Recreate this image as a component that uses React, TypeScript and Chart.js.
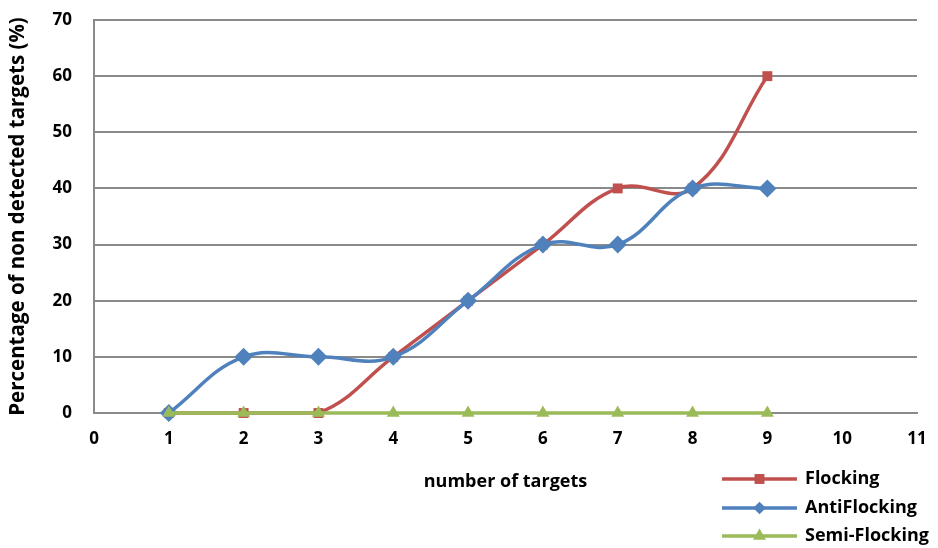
import React, { useEffect, useRef } from "react";
import { Chart, registerables } from "chart.js";

Chart.register(...registerables);

const xValues = [1, 2, 3, 4, 5, 6, 7, 8, 9];
const flocking = [0, 0, 0, 10, 20, 30, 40, 40, 60];
const antiFlocking = [0, 10, 10, 10, 20, 30, 30, 40, 40];
const semiFlocking = [0, 0, 0, 0, 0, 0, 0, 0, 0];
const seriesNames = ["Flocking", "AntiFlocking", "Semi-Flocking"];
const xTitle = "number of targets";
const yTitle = "Percentage of non detected targets (%)";

const RED = "#C0504D";
const BLUE = "#4F81BD";
const GREEN = "#9BBB59";
const GRID = "#8A8A8A";
const FONT = "'Open Sans', Lato, sans-serif";

function drawMarker(ctx: CanvasRenderingContext2D, style: string, x: number, y: number, r: number) {
  ctx.beginPath();
  if (style === "rect") {
    const s = r * Math.SQRT1_2;
    ctx.rect(x - s, y - s, 2 * s, 2 * s);
  } else if (style === "rectRot") {
    const s = r * Math.SQRT1_2;
    ctx.moveTo(x - s, y);
    ctx.lineTo(x, y + s);
    ctx.lineTo(x + s, y);
    ctx.lineTo(x, y - s);
    ctx.closePath();
  } else {
    const rad = -Math.PI / 2;
    for (let i = 0; i < 3; i++) {
      const a = rad + (i * 2 * Math.PI) / 3;
      const px = x + Math.cos(a) * r;
      const py = y + Math.sin(a) * r;
      if (i === 0) ctx.moveTo(px, py);
      else ctx.lineTo(px, py);
    }
    ctx.closePath();
  }
  ctx.fill();
}

const legendPlugin = {
  id: "customLegend",
  afterDraw(chart: any) {
    const ctx = chart.ctx as CanvasRenderingContext2D;
    const items = [
      { name: seriesNames[0], color: RED, style: "rect", r: 7 },
      { name: seriesNames[1], color: BLUE, style: "rectRot", r: 9 },
      { name: seriesNames[2], color: GREEN, style: "triangle", r: 7.5 },
    ];
    const x0 = 722;
    const x1 = 797;
    const ys = [479, 508, 536];
    ctx.save();
    items.forEach((it, i) => {
      const y = ys[i];
      ctx.strokeStyle = it.color;
      ctx.fillStyle = it.color;
      ctx.lineWidth = 3.5;
      ctx.beginPath();
      ctx.moveTo(x0, y);
      ctx.lineTo(x1, y);
      ctx.stroke();
      drawMarker(ctx, it.style, (x0 + x1) / 2, y, it.r);
      ctx.fillStyle = "#000";
      ctx.font = `bold 18px ${FONT}`;
      ctx.textAlign = "left";
      ctx.textBaseline = "middle";
      ctx.fillText(it.name, 805, y);
    });
    ctx.restore();
  },
};

export default function App() {
  const ref = useRef<HTMLCanvasElement | null>(null);
  useEffect(() => {
    if (!ref.current) return;
    const mk = (arr: number[]) => xValues.map((x, i) => ({ x, y: arr[i] }));
    const chart = new Chart(ref.current, {
      type: "line",
      data: {
        datasets: [
          {
            label: seriesNames[0],
            data: mk(flocking),
            borderColor: RED,
            backgroundColor: RED,
            borderWidth: 3.5,
            pointStyle: "rect",
            pointRadius: 7,
            pointBorderWidth: 0,
            tension: 0.4,
            clip: false as any,
            order: 3,
          },
          {
            label: seriesNames[1],
            data: mk(antiFlocking),
            borderColor: BLUE,
            backgroundColor: BLUE,
            borderWidth: 3.5,
            pointStyle: "rectRot",
            pointRadius: 9,
            pointBorderWidth: 0,
            tension: 0.4,
            clip: false as any,
            order: 2,
          },
          {
            label: seriesNames[2],
            data: mk(semiFlocking),
            borderColor: GREEN,
            backgroundColor: GREEN,
            borderWidth: 3.5,
            pointStyle: "triangle",
            pointRadius: 7.5,
            pointBorderWidth: 0,
            tension: 0.4,
            clip: false as any,
            order: 1,
          },
        ],
      },
      options: {
        animation: false,
        responsive: false,
        maintainAspectRatio: false,
        layout: { padding: { left: 0, right: 21, top: 20, bottom: 0 } },
        plugins: { legend: { display: false }, tooltip: { enabled: false } },
        scales: {
          x: {
            type: "linear",
            min: 0,
            max: 11,
            grid: { display: false, drawTicks: false },
            border: { display: true, color: GRID, width: 2 },
            ticks: {
              stepSize: 1,
              padding: 16,
              color: "#000",
              font: { family: FONT, size: 17, weight: "bold" },
            },
            title: {
              display: true,
              text: xTitle,
              color: "#000",
              font: { family: FONT, size: 18, weight: "bold" },
              padding: { top: 22, bottom: 55 },
            },
            afterFit: (s: any) => {
              s.height = 135;
              s.paddingLeft = 0;
              s.paddingRight = 0;
            },
          },
          y: {
            min: 0,
            max: 70,
            grid: { display: true, drawTicks: false, color: GRID, lineWidth: 2 },
            border: { display: true, color: GRID, width: 2 },
            ticks: {
              stepSize: 10,
              padding: 22,
              color: "#000",
              font: { family: FONT, size: 17, weight: "bold" },
            },
            title: {
              display: true,
              text: yTitle,
              color: "#000",
              font: { family: FONT, size: 20.5, weight: "bold" },
              padding: { top: 6, bottom: 0 },
            },
            afterFit: (s: any) => {
              s.width = 94;
              s.paddingTop = 0;
              s.paddingBottom = 0;
            },
          },
        },
      },
      plugins: [legendPlugin],
    });
    return () => chart.destroy();
  }, []);
  return (
    <div style={{ position: "fixed", left: 0, top: 0, width: 938, height: 548, background: "#fff" }}>
      <canvas ref={ref} width={938} height={548} style={{ width: 938, height: 548 }} />
    </div>
  );
}
